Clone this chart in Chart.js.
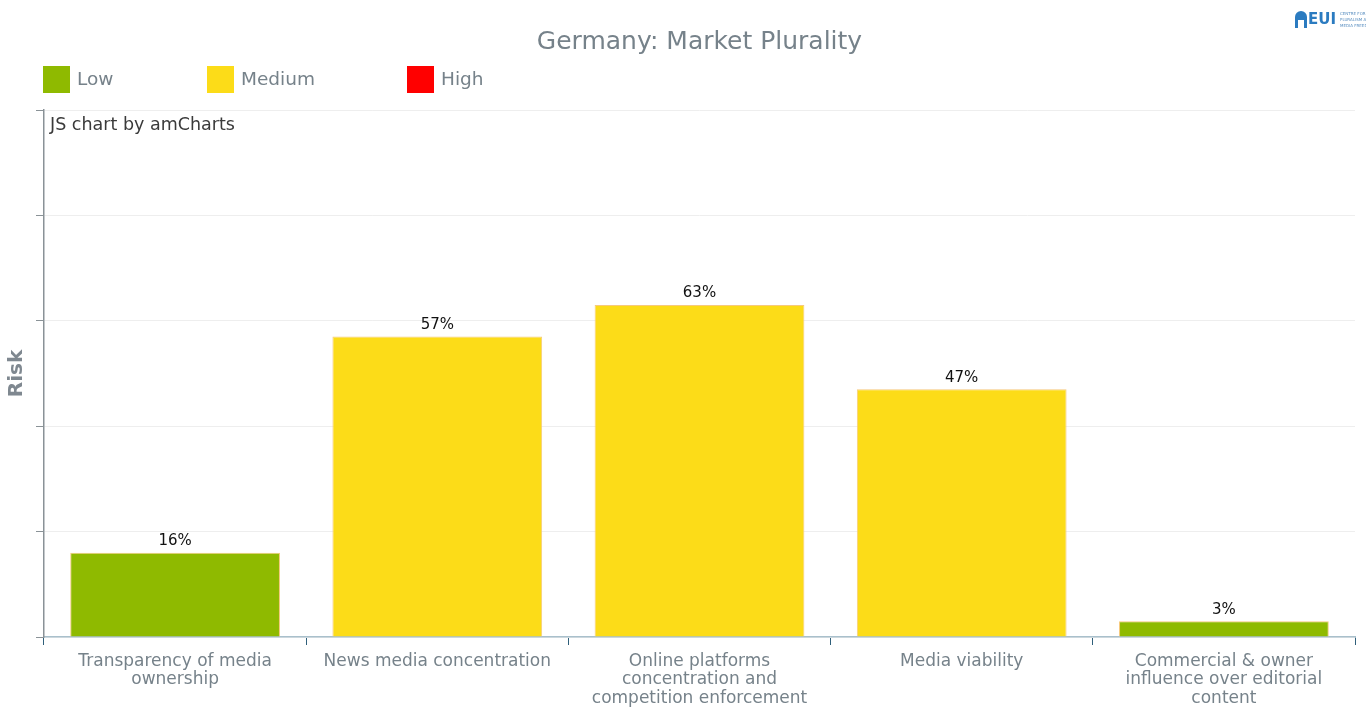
<!DOCTYPE html>
<html>
<head>
<meta charset="utf-8">
<script src="https://cdn.jsdelivr.net/npm/chart.js@4.4.0/dist/chart.umd.min.js"></script>
<style>
    html, body { margin: 0; padding: 0; background: #fff; overflow: hidden; }
    #grafico { display: block; }
</style>
</head>
<body>
<canvas id="grafico" width="1366" height="709"></canvas>
<script>
const titleText = 'Germany: Market Plurality';
const categories = [
    ['Transparency of media', 'ownership'],
    ['News media concentration'],
    ['Online platforms', 'concentration and', 'competition enforcement'],
    ['Media viability'],
    ['Commercial & owner', 'influence over editorial', 'content']
];
const riskValues = [16, 57, 63, 47, 3];
const riskLevels = ['Low', 'Medium', 'Medium', 'Medium', 'Low'];
const legendNames = ['Low', 'Medium', 'High'];
const legendColors = ['#8fba00', '#fcdc18', '#ff0000'];

const colorOf = (level) => legendColors[legendNames.indexOf(level)];

const FONT = "'DejaVu Sans', Verdana, sans-serif";
const GREY = '#76828a';

// titulo, legenda, creditos e logo
const decorPlugin = {
    id: 'decor',
    afterDraw(chart) {
        const ctx = chart.ctx;
        const area = chart.chartArea;
        ctx.save();

        ctx.fillStyle = GREY;
        ctx.font = '25px ' + FONT;
        ctx.textAlign = 'center';
        ctx.textBaseline = 'middle';
        ctx.fillText(titleText, (area.left + area.right) / 2, 42);

        // legenda com largura fixa por item
        const legendX = [43, 207, 407];
        ctx.font = '18.5px ' + FONT;
        ctx.textAlign = 'left';
        legendNames.forEach((name, i) => {
            ctx.fillStyle = legendColors[i];
            ctx.fillRect(legendX[i], 66, 27, 27);
            ctx.fillStyle = GREY;
            ctx.fillText(name, legendX[i] + 34, 80);
        });

        ctx.fillStyle = '#3a3a3a';
        ctx.font = '17.5px ' + FONT;
        ctx.fillText('JS chart by amCharts', 50, 125);

        // logo EUI (aproximado)
        ctx.fillStyle = '#2b7bc0';
        ctx.beginPath();
        ctx.moveTo(1295, 28);
        ctx.lineTo(1295, 17);
        ctx.arc(1301, 17, 6, Math.PI, 0);
        ctx.lineTo(1307, 28);
        ctx.lineTo(1304, 28);
        ctx.lineTo(1304, 20);
        ctx.lineTo(1298, 20);
        ctx.lineTo(1298, 28);
        ctx.closePath();
        ctx.fill();
        ctx.font = 'bold 15px ' + FONT;
        ctx.fillText('EUI', 1308, 20);
        ctx.font = '4px ' + FONT;
        ctx.fillStyle = '#5a8fc0';
        ctx.fillText('CENTRE FOR M', 1340, 14);
        ctx.fillText('PLURALISM AN', 1340, 20);
        ctx.fillText('MEDIA FREEDO', 1340, 26);

        ctx.restore();
    },
    afterDatasetsDraw(chart) {
        const ctx = chart.ctx;
        const meta = chart.getDatasetMeta(0);
        ctx.save();
        ctx.fillStyle = '#111';
        ctx.font = '15px ' + FONT;
        ctx.textAlign = 'center';
        ctx.textBaseline = 'bottom';
        meta.data.forEach((bar, i) => {
            ctx.fillText(riskValues[i] + '%', bar.x, bar.y - 4);
        });
        ctx.restore();
    }
};

const ctx = document.getElementById('grafico').getContext('2d');

const myChart = new Chart(ctx, {
    type: 'bar',
    data: {
        labels: categories,
        datasets: [{
            label: 'Risk',
            data: riskValues,
            backgroundColor: riskLevels.map(colorOf),
            borderColor: '#f6c97c',
            borderWidth: 1,
            categoryPercentage: 0.8,
            barPercentage: 1
        }]
    },
    options: {
        responsive: false,
        animation: false,
        maintainAspectRatio: false,
        layout: { padding: { top: 110, left: 0, right: 11, bottom: 0 } },
        plugins: {
            legend: { display: false },
            tooltip: { enabled: false }
        },
        scales: {
            x: {
                offset: true,
                grid: {
                    offset: true,
                    drawOnChartArea: false,
                    tickLength: 8,
                    tickColor: '#2f5f7a'
                },
                border: { color: '#a9c0cc', width: 1.5 },
                ticks: {
                    color: GREY,
                    font: { family: FONT, size: 17, lineHeight: 1.1 },
                    padding: 7,
                    maxRotation: 0,
                    autoSkip: false
                },
                afterFit: function(scale) { scale.height = 72; }
            },
            y: {
                min: 0,
                max: 100,
                ticks: { display: false, stepSize: 20 },
                grid: {
                    color: '#eeeeee',
                    tickColor: '#8a9297',
                    tickLength: 8
                },
                border: { color: '#8a9297', width: 1.5 },
                title: {
                    display: true,
                    text: 'Risk',
                    color: '#7f8890',
                    font: { family: FONT, size: 20, weight: 'bold' },
                    padding: { top: 5, bottom: 0 }
                },
                afterFit: function(scale) { scale.width = 44; }
            }
        }
    },
    plugins: [decorPlugin]
});
</script>
</body>
</html>
